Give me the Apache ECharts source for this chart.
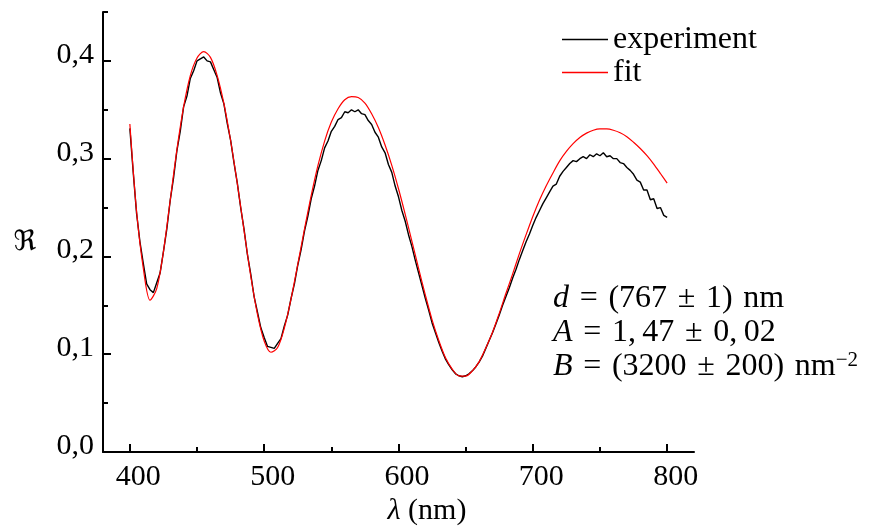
<!DOCTYPE html>
<html>
<head>
<meta charset="utf-8">
<script src="https://cdn.jsdelivr.net/npm/echarts@6/dist/echarts.min.js"></script>
<style>
  html, body { margin: 0; padding: 0; background: #fff; }
  #chart { width: 872px; height: 528px; }
</style>
</head>
<body>
<div id="chart"></div>
<script>
// Thin-film reflectance spectrum: measured curve and fitted model.

// Fitted model, sampled every 5 nm from 400 nm.
const fitStart = 400;
const fitStep = 5;
const fitValues = [
  0.3355, 0.2460, 0.1880, 0.1552, 0.1670, 0.2050, 0.2570, 0.3090, 0.3530, 0.3850,
  0.4030, 0.4095, 0.4036, 0.3850, 0.3565, 0.3186, 0.2744, 0.2267, 0.1800, 0.1408,
  0.1135, 0.1020, 0.1068, 0.1268, 0.1567, 0.1918, 0.2279, 0.2622, 0.2928, 0.3180,
  0.3374, 0.3511, 0.3603, 0.3634, 0.3625, 0.3568, 0.3459, 0.3318, 0.3139, 0.2931,
  0.2692, 0.2430, 0.2155, 0.1876, 0.1605, 0.1352, 0.1140, 0.0963, 0.0848, 0.0778,
  0.0776, 0.0830, 0.0922, 0.1064, 0.1225, 0.1417, 0.1623, 0.1822, 0.2029, 0.2223,
  0.2409, 0.2577, 0.2723, 0.2854, 0.2977, 0.3074, 0.3153, 0.3216, 0.3261, 0.3291,
  0.3304, 0.3304, 0.3291, 0.3265, 0.3225, 0.3168, 0.3104, 0.3030, 0.2944, 0.2848,
  0.2750
];

// Measured spectrum, sampled every 2.5 nm from 400 nm.
const expStart = 400;
const expStep = 2.5;
const expValues = [
  0.331, 0.286, 0.244, 0.215, 0.193, 0.172, 0.166, 0.163,
  0.173, 0.183, 0.205, 0.228, 0.257, 0.280, 0.308, 0.328,
  0.353, 0.364, 0.382, 0.390, 0.400, 0.402, 0.404, 0.400,
  0.399, 0.391, 0.383, 0.367, 0.356, 0.336, 0.319, 0.296,
  0.275, 0.250, 0.228, 0.202, 0.182, 0.159, 0.143, 0.127,
  0.117, 0.108, 0.107, 0.106, 0.111, 0.116, 0.129, 0.140,
  0.157, 0.172, 0.191, 0.207, 0.226, 0.241, 0.259, 0.272,
  0.288, 0.298, 0.311, 0.318, 0.328, 0.333, 0.340, 0.342,
  0.348, 0.347, 0.350, 0.348, 0.350, 0.346, 0.345, 0.339,
  0.335, 0.327, 0.322, 0.312, 0.306, 0.294, 0.286, 0.272,
  0.261, 0.247, 0.236, 0.222, 0.210, 0.196, 0.183, 0.170,
  0.157, 0.145, 0.132, 0.122, 0.112, 0.103, 0.095, 0.089,
  0.084, 0.080, 0.078, 0.077, 0.078, 0.080, 0.083, 0.087,
  0.092, 0.098, 0.106, 0.114, 0.122, 0.131, 0.140, 0.150,
  0.159, 0.168, 0.178, 0.187, 0.197, 0.206, 0.215, 0.223,
  0.232, 0.240, 0.247, 0.254, 0.260, 0.266, 0.272, 0.274,
  0.282, 0.287, 0.291, 0.295, 0.298, 0.297, 0.300, 0.302,
  0.300, 0.304, 0.302, 0.305, 0.303, 0.306, 0.302, 0.303,
  0.300, 0.300, 0.296, 0.295, 0.291, 0.288, 0.284, 0.278,
  0.276, 0.268, 0.268, 0.258, 0.259, 0.249, 0.250, 0.242,
  0.240
];

const seriesNames = ['experiment', 'fit'];
const xMajorTicks = [400, 500, 600, 700, 800];
const xMinorTicks = [450, 550, 650, 750];
const yMajorTicks = [0, 0.1, 0.2, 0.3, 0.4];
const yMinorTicks = [0.05, 0.15, 0.25, 0.35, 0.45];
const SP = '\u2004';   // slightly wider math-style space
const fitResultLines = [
  '{i|d}' + SP + '=' + SP + '(767' + SP + '±' + SP + '1)' + SP + 'nm',
  '{i|A}' + SP + '=' + SP + '1,\u200947' + SP + '±' + SP + '0,\u200902',
  '{i|B}' + SP + '=' + SP + '(3200' + SP + '±' + SP + '200)' + SP + 'nm{sup|\u22122}'
];

const SERIF = '"Liberation Serif", "DejaVu Serif", serif';
const toPairs = (start, step, values) => values.map((v, i) => [start + i * step, v]);

const chart = echarts.init(document.getElementById('chart'), null, { renderer: 'canvas' });

const axisBlack = { color: '#000', width: 2 };

chart.setOption({
  animation: false,
  backgroundColor: '#fff',
  grid: { left: 103, top: 12, right: 178, bottom: 76, containLabel: false },
  legend: {
    data: seriesNames,
    orient: 'vertical',
    left: 562,
    top: 23,
    padding: 0,
    itemGap: 0,
    itemWidth: 46,
    itemHeight: 1.4,
    icon: 'rect',
    selectedMode: false,
    textStyle: {
      fontFamily: SERIF, fontSize: 32, color: '#000',
      lineHeight: 25, padding: [0, 0, 8, 0]
    }
  },
  xAxis: [
    {
      type: 'value', min: 380, max: 820, position: 'bottom',
      axisLine: { show: true, onZero: false, lineStyle: axisBlack },
      axisTick: { show: true, inside: true, length: 8, lineStyle: axisBlack, customValues: xMajorTicks },
      axisLabel: {
        customValues: xMajorTicks, color: '#000', fontFamily: SERIF, fontSize: 30,
        margin: 10, padding: [0, 0, 0, 17]
      },
      splitLine: { show: false }
    },
    {
      type: 'value', min: 380, max: 820, position: 'bottom',
      axisLine: { show: false },
      axisTick: { show: true, inside: true, length: 5, lineStyle: axisBlack, customValues: xMinorTicks },
      axisLabel: { show: false },
      splitLine: { show: false }
    }
  ],
  yAxis: [
    {
      type: 'value', min: 0, max: 0.45, position: 'left',
      axisLine: { show: true, onZero: false, lineStyle: axisBlack },
      axisTick: { show: true, inside: true, length: 8, lineStyle: axisBlack, customValues: yMajorTicks },
      axisLabel: {
        customValues: yMajorTicks, color: '#000', fontFamily: SERIF, fontSize: 30,
        margin: 9, verticalAlign: 'bottom', lineHeight: 12,
        formatter: v => v.toFixed(1).replace('.', ',')
      },
      splitLine: { show: false }
    },
    {
      type: 'value', min: 0, max: 0.45, position: 'left',
      axisLine: { show: false },
      axisTick: { show: true, inside: true, length: 5, lineStyle: axisBlack, customValues: yMinorTicks },
      axisLabel: { show: false },
      splitLine: { show: false }
    }
  ],
  series: [
    {
      name: seriesNames[0], type: 'line', xAxisIndex: 0, yAxisIndex: 0,
      data: toPairs(expStart, expStep, expValues),
      symbol: 'none', lineStyle: { color: '#000', width: 1.4 }, itemStyle: { color: '#000' },
      z: 2
    },
    {
      name: seriesNames[1], type: 'line', xAxisIndex: 0, yAxisIndex: 0,
      data: toPairs(fitStart, fitStep, fitValues),
      symbol: 'none', smooth: 0.3, lineStyle: { color: '#ff0000', width: 1.2 }, itemStyle: { color: '#ff0000' },
      z: 3
    }
  ],
  graphic: [
    {
      type: 'text', left: 553, top: 282, z: 10,
      style: {
        text: fitResultLines.join('\n'),
        fontFamily: SERIF, fontSize: 32, lineHeight: 34, fill: '#000',
        rich: {
          i: { fontFamily: SERIF, fontSize: 32, fontStyle: 'italic', lineHeight: 34, fill: '#000' },
          sup: { fontFamily: SERIF, fontSize: 21, verticalAlign: 'top', fill: '#000' }
        }
      }
    },
    {
      type: 'text', x: 427, y: 511, z: 10,
      style: {
        text: '{i|λ} (nm)', align: 'center', verticalAlign: 'middle',
        fontFamily: SERIF, fontSize: 30, fill: '#000',
        rich: { i: { fontFamily: SERIF, fontSize: 30, fontStyle: 'italic', fill: '#000' } }
      }
    },
    {
      type: 'text', x: 25, y: 243, z: 10,
      style: {
        text: '\u211C', align: 'center', verticalAlign: 'middle',
        fontFamily: '"DejaVu Serif", "DejaVu Sans", serif', fontSize: 28, fill: '#000'
      }
    }
  ]
});
</script>
</body>
</html>
